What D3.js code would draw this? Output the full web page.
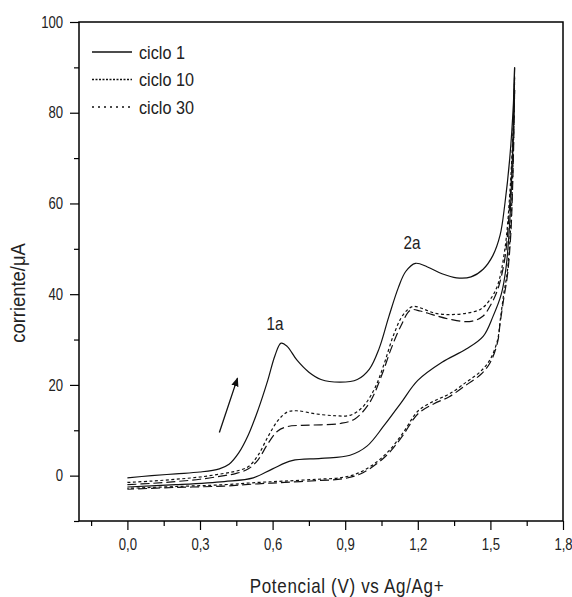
<!DOCTYPE html>
<html>
<head>
<meta charset="utf-8">
<script src="https://cdn.jsdelivr.net/npm/d3@7"></script>
<style>
  body { margin: 0; background: #fff; }
  svg text { font-family: "Liberation Sans", Arial, sans-serif; fill: #222; }
</style>
</head>
<body>
<div id="chart"></div>
<script>
// potential (V) / current (uA) pairs
const ciclo1Ida = [[0,-0.5],[0.1,0],[0.2,0.4],[0.3,0.8],[0.38,1.5],[0.42,2.5],[0.46,5],[0.5,9],[0.54,14.5],[0.58,21],
  [0.61,26.5],[0.635,29.2],[0.66,28.5],[0.7,25.5],[0.75,22.8],[0.8,21.2],[0.88,20.6],[0.95,21.2],[1.0,23.5],[1.04,28],
  [1.08,35],[1.12,41.5],[1.15,45],[1.19,46.8],[1.24,46],[1.3,44.5],[1.36,43.6],[1.42,43.8],[1.47,45.5],[1.51,48.5],
  [1.54,53],[1.56,60],[1.58,70],[1.595,82],[1.6,90]];
const ciclo1Vuelta = [[1.6,90],[1.592,72],[1.58,56],[1.565,46],[1.545,40],[1.51,35],[1.47,30.7],[1.4,27.9],[1.3,25],
  [1.2,21],[1.13,16],[1.06,11],[0.99,6.5],[0.92,4.5],[0.8,3.8],[0.68,3.3],[0.6,1.5],[0.52,-0.5],[0.4,-1.3],[0.2,-2],[0,-2.5]];

const ciclo10Ida = [[0,-1.5],[0.1,-1.2],[0.2,-0.8],[0.3,-0.3],[0.4,0.5],[0.45,1],[0.5,2],[0.54,4.5],[0.58,8.5],[0.62,12],
  [0.66,14],[0.7,14.3],[0.78,13.6],[0.86,13.2],[0.92,13.3],[0.97,15],[1.02,19],[1.06,24.5],[1.1,31],[1.14,35.5],
  [1.18,37.3],[1.22,36.8],[1.27,35.8],[1.33,35.5],[1.4,35.8],[1.46,36.7],[1.5,38.9],[1.53,42],[1.56,50],[1.58,62],
  [1.595,78],[1.6,88]];
const ciclo10Vuelta = [[1.6,88],[1.594,70],[1.584,55],[1.57,45],[1.555,40],[1.54,34],[1.53,30],[1.5,25.7],[1.46,23],
  [1.4,20.6],[1.33,18],[1.265,16.4],[1.2,14.2],[1.14,9.5],[1.086,5.8],[1.03,3],[0.96,0.7],[0.89,-0.4],[0.785,-0.8],
  [0.65,-1.2],[0.54,-1.5],[0.4,-2],[0.2,-2.4],[0,-2.8]];

const ciclo30Ida = [[0,-2],[0.1,-1.7],[0.2,-1.3],[0.3,-0.8],[0.4,0],[0.45,0.5],[0.5,1.5],[0.54,3.5],[0.58,7],[0.62,9.8],
  [0.66,10.8],[0.72,11.1],[0.8,11.2],[0.88,11.5],[0.94,12.5],[1.0,16],[1.05,22],[1.09,28],[1.13,33],[1.17,36.5],
  [1.21,36.3],[1.26,35.5],[1.33,34.5],[1.42,34],[1.47,35.2],[1.5,37.5],[1.53,41],[1.56,48],[1.58,60],[1.595,75],[1.6,85]];
const ciclo30Vuelta = [[1.6,85],[1.594,68],[1.584,53],[1.57,44],[1.555,39],[1.54,33.5],[1.53,29.5],[1.5,25],[1.46,22.3],
  [1.4,20],[1.33,17.4],[1.265,15.8],[1.2,13.6],[1.14,9],[1.086,5.3],[1.03,2.6],[0.96,0.3],[0.89,-0.7],[0.785,-1.1],
  [0.65,-1.5],[0.54,-1.8],[0.4,-2.3],[0.2,-2.6],[0,-3]];

const series = [
  { name: "ciclo 1", dash: null, tramos: [ciclo1Ida, ciclo1Vuelta] },
  { name: "ciclo 10", dash: "3,2.5", tramos: [ciclo10Ida, ciclo10Vuelta] },
  { name: "ciclo 30", dash: "9,4", tramos: [ciclo30Ida, ciclo30Vuelta] }
];

const xTicks = [0, 0.3, 0.6, 0.9, 1.2, 1.5, 1.8];
const xMinor = [-0.15, 0.15, 0.45, 0.75, 1.05, 1.35, 1.65];
const yTicks = [0, 20, 40, 60, 80, 100];
const yMinor = [-10, 10, 30, 50, 70, 90];

const width = 572, height = 597;
const mLeft = 79, mRight = 563, mTop = 22, mBottom = 521;

const svg = d3.select("#chart").append("svg")
    .attr("width", width)
    .attr("height", height);

const x = d3.scaleLinear().domain([-0.2, 1.8]).range([mLeft, mRight]);
const y = d3.scaleLinear().domain([-10, 100]).range([mBottom, mTop]);

const comma = d => d3.format(".1f")(d).replace(".", ",");

// the original uses a tall, narrow lettering, so squeeze text horizontally
function narrowText(sel, tx, ty, sx, size) {
    return sel.append("text")
        .attr("transform", `translate(${tx},${ty}) scale(${sx},1)`)
        .style("font-size", size + "px");
}

// x axis
const xAxis = svg.append("g")
    .attr("transform", `translate(0,${mBottom})`)
    .call(d3.axisBottom(x).tickValues(xTicks).tickSize(9).tickPadding(9).tickFormat(comma));
xAxis.append("g").call(d3.axisBottom(x).tickValues(xMinor).tickSize(5).tickFormat(""));
xAxis.selectAll(".tick text").attr("transform", "scale(0.82,1)");

// y axis
const yAxis = svg.append("g")
    .attr("transform", `translate(${mLeft},0)`)
    .call(d3.axisLeft(y).tickValues(yTicks).tickSize(9).tickPadding(6));
yAxis.append("g").call(d3.axisLeft(y).tickValues(yMinor).tickSize(5).tickFormat(""));
yAxis.selectAll(".tick text").attr("x", -16 / 0.82).attr("transform", "scale(0.82,1)");

svg.selectAll(".domain").remove();
svg.selectAll(".tick line").attr("stroke", "#000").attr("stroke-width", 1.2);
svg.selectAll(".tick text").style("font-size", "16px").attr("fill", "#222");

// frame
svg.append("rect")
    .attr("x", mLeft).attr("y", mTop)
    .attr("width", mRight - mLeft).attr("height", mBottom - mTop)
    .attr("fill", "none").attr("stroke", "#000").attr("stroke-width", 1.5);

// curves
const line = d3.line()
    .x(d => x(d[0]))
    .y(d => y(d[1]))
    .curve(d3.curveCatmullRom.alpha(0.5));

series.forEach(s => {
    s.tramos.forEach(t => {
        svg.append("path")
            .datum(t)
            .attr("d", line)
            .attr("fill", "none")
            .attr("stroke", "#111")
            .attr("stroke-width", 1.2)
            .attr("stroke-dasharray", s.dash);
    });
});

// legend
const legend = svg.append("g");
series.forEach((s, i) => {
    const ly = 52 + i * 27.5;
    legend.append("line")
        .attr("x1", 92).attr("x2", 132)
        .attr("y1", ly).attr("y2", ly)
        .attr("stroke", "#111").attr("stroke-width", 1.3)
        .attr("stroke-dasharray", s.dash === null ? null : (i === 1 ? "2,1.5" : "2,4"));
    narrowText(legend, 139, ly + 6.5, 0.9, 18).text(s.name);
});

// peak labels
narrowText(svg, 275, 330, 0.85, 18).attr("text-anchor", "middle").text("1a");
narrowText(svg, 412, 249, 0.85, 18).attr("text-anchor", "middle").text("2a");

// scan direction arrow
svg.append("defs").append("marker")
    .attr("id", "flecha")
    .attr("viewBox", "0 0 10 10")
    .attr("refX", 9).attr("refY", 5)
    .attr("markerWidth", 7).attr("markerHeight", 7)
    .attr("orient", "auto")
    .append("path").attr("d", "M0,1 L10,5 L0,9 Z").attr("fill", "#111");

svg.append("line")
    .attr("x1", x(0.38)).attr("y1", y(9.5))
    .attr("x2", x(0.455)).attr("y2", y(21.5))
    .attr("stroke", "#111").attr("stroke-width", 1.3)
    .attr("marker-end", "url(#flecha)");

// axis titles
narrowText(svg, 347, 593, 0.85, 20)
    .attr("text-anchor", "middle")
    .style("letter-spacing", "0.8px")
    .text("Potencial (V) vs Ag/Ag+");

svg.append("text")
    .attr("transform", "translate(25,293) rotate(-90) scale(0.92,1)")
    .attr("text-anchor", "middle")
    .style("font-size", "20px")
    .text("corriente/μA");
</script>
</body>
</html>
